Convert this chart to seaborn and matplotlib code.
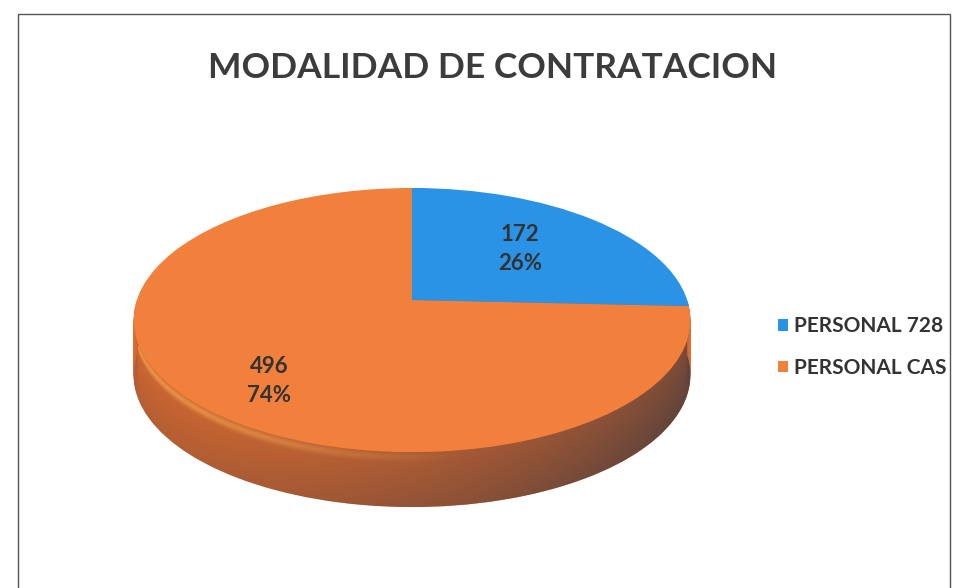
import numpy as np
import matplotlib
matplotlib.use("Agg")
import matplotlib.pyplot as plt
import seaborn as sns
from matplotlib.patches import Rectangle, Polygon
from matplotlib.transforms import Transform

# chart data
categories = ["PERSONAL 728", "PERSONAL CAS"]
counts = [172, 496]
percents = [26, 74]
top_colors = ["#2B93E6", "#F2803D"]
side_colors = ["#1E6FB3", "#D86A30"]


class Tilt(Transform):
    """Simple perspective tilt of the unit disk (back is smaller)."""
    input_dims = 2
    output_dims = 2
    is_separable = False
    has_inverse = False

    def __init__(self, k, s, dy=0.0, sx=0.988):
        super().__init__()
        self.k, self.s, self.dy, self.sx = k, s, dy, sx

    def transform_non_affine(self, values):
        v = np.asarray(values, dtype=float)
        w = 1 + self.k * v[:, 1]
        return np.column_stack([self.sx * v[:, 0] / w, self.s * v[:, 1] / w - self.dy])


K, S = 0.1515, 0.4632
depth = 0.1975
n_layers = 40

sns.set_theme(style="white")
plt.rcParams["font.family"] = ["Lato", "DejaVu Sans"]

fig = plt.figure(figsize=(9.62, 5.88), dpi=100)
ax = fig.add_axes([0, 0, 1, 1])
ax.axis("off")

# side wall: stacked pies pushed down
for i in range(n_layers, 0, -1):
    ws, _ = ax.pie(counts, colors=side_colors, startangle=90, counterclock=False,
                   radius=1, wedgeprops=dict(linewidth=0))
    for w in ws:
        w.set_transform(Tilt(K, S, depth * i / n_layers) + ax.transData)

# shading of the side wall
tilt0 = Tilt(K, S)
th = np.linspace(np.pi, 2 * np.pi, 400)
rim = tilt0.transform_non_affine(np.column_stack([np.cos(th), np.sin(th)]))
xs = np.linspace(-1.02, 1.02, 400)
ys = np.linspace(rim[:, 1].min() - depth - 0.02, 0.05, 250)
gx, gy = np.meshgrid(xs, ys)
rim_y = np.interp(gx, rim[:, 0], rim[:, 1])
below = rim_y - gy
f = np.clip((gx + 1) / 2, 0, 1)
shade = np.zeros(gx.shape + (4,))
shade[..., :3] = [0.30, 0.24, 0.24]
shade[..., 3] = np.clip(0.05 + 0.62 * f ** 1.3 + 0.2 * np.clip(below / depth, 0, 1), 0, 0.9)
hl = np.zeros(gx.shape + (4,))
hl[..., :3] = [1.0, 0.72, 0.35]
hl[..., 3] = 0.6 * np.exp(-((below - 0.018) / 0.014) ** 2) * np.clip(1 - f / 0.6, 0, 1)
ext = (xs[0], xs[-1], ys[0], ys[-1])
im = ax.imshow(shade, extent=ext, origin="lower", aspect="auto", zorder=2, interpolation="bilinear")
im2 = ax.imshow(hl, extent=ext, origin="lower", aspect="auto", zorder=2, interpolation="bilinear")
band = np.vstack([rim, (rim - [0, depth])[::-1]])
clip = Polygon(band, closed=True, transform=ax.transData, facecolor="none", edgecolor="none")
ax.add_patch(clip)
im.set_clip_path(clip)
im2.set_clip_path(clip)

# top surface
wedges, _ = ax.pie(counts, colors=top_colors, startangle=90, counterclock=False,
                   radius=1, wedgeprops=dict(linewidth=0))
for w in wedges:
    w.set_transform(tilt0 + ax.transData)
    w.set_zorder(3)

ax.set_aspect("auto")
ax.set_xlim(-1.4793, 1.9749)
ax.set_ylim(-1.0341, 1.0772)

# value labels
label_pos = [(0.388, 0.183), (-0.513, -0.291)]
for (lx, ly), c, p in zip(label_pos, counts, percents):
    ax.text(lx, ly, f"{c}\n{p}%", ha="center", va="center", fontsize=16,
            fontweight="bold", color="#333333", linespacing=1.5, zorder=5)

fig.text(0.512, 1 - 68 / 588, "MODALIDAD DE CONTRATACION", ha="center", va="center",
         fontsize=25.5, fontweight="bold", color="#3c3c3c")

leg = fig.legend(wedges, categories, loc="center left", bbox_to_anchor=(0.789, 0.41),
                 frameon=False, prop=dict(weight="bold", size=15),
                 handlelength=0.5, handleheight=0.5, handletextpad=0.3,
                 labelspacing=1.05)
for t in leg.get_texts():
    t.set_color("#333333")

fig.patches.append(Rectangle((18 / 962, -0.05), 932 / 962, 1.026, transform=fig.transFigure,
                             fill=False, edgecolor="#555555", linewidth=1.0))

fig.savefig("out.png", dpi=100)
